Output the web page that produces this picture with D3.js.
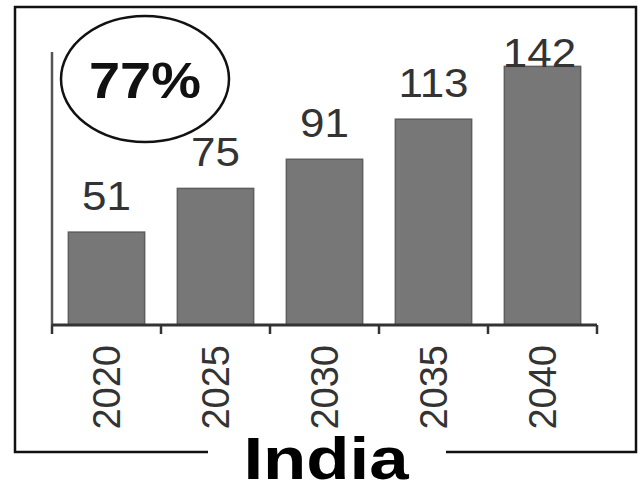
<!DOCTYPE html>
<html>
<head>
<meta charset="utf-8">
<script src="https://cdn.jsdelivr.net/npm/d3@7"></script>
<style>
html,body{margin:0;padding:0;background:#fff;}
svg{display:block;}
text{font-family:"Liberation Sans", Arial, sans-serif;}
</style>
</head>
<body>
<svg id="chart" width="641" height="484"></svg>
<script>
const years = ["2020", "2025", "2030", "2035", "2040"];
const values = [51, 75, 91, 113, 142];
const badgeText = "77%";
const titleText = "India";

const svg = d3.select("#chart");
const x0 = 52, x1 = 597, yBase = 325, yTop = 50;
const labelMinY = 67;

const defs = svg.append("defs");
const f = defs.append("filter").attr("id", "sh").attr("x", "-10%").attr("y", "-200%").attr("width", "120%").attr("height", "500%");
f.append("feGaussianBlur").attr("stdDeviation", 2);

const x = d3.scaleBand().domain(years).range([x0, x1]).paddingInner(0.3).paddingOuter(0.15);
const y = d3.scaleLinear().domain([0, 151]).range([yBase, yTop]);

// frame shadow
svg.append("path")
  .attr("d", "M208,456 L18,456 M446,456 L636,456")
  .attr("stroke", "#777").attr("stroke-width", 3).attr("fill", "none")
  .attr("filter", "url(#sh)");
// frame
svg.append("path")
  .attr("d", "M208,452 L15,452 L15,7 L636,7 L636,452 L446,452")
  .attr("stroke", "#111").attr("stroke-width", 2.5).attr("fill", "none");

// bars
svg.selectAll("rect.bar").data(values).join("rect")
  .attr("class", "bar")
  .attr("x", (d, i) => x(years[i]))
  .attr("width", x.bandwidth())
  .attr("y", d => y(d))
  .attr("height", d => yBase - y(d))
  .attr("fill", "#777").attr("stroke", "#5e5e5e").attr("stroke-width", 1.5);

// y axis line
svg.append("line").attr("x1", x0).attr("x2", x0).attr("y1", yTop + 2).attr("y2", yBase)
  .attr("stroke", "#555").attr("stroke-width", 2.5);

// x axis
const xAxis = d3.axisBottom(x).tickSize(0).tickFormat("");
const gx = svg.append("g").attr("transform", `translate(0,${yBase})`).call(xAxis);
gx.select(".domain").remove();
svg.append("line").attr("x1", x0).attr("x2", x1).attr("y1", yBase).attr("y2", yBase)
  .attr("stroke", "#333").attr("stroke-width", 3);
const bounds = years.map(d => x(d) - x.step() * x.paddingInner() / 2);
bounds[0] = x0;
bounds.push(x1);
svg.selectAll("line.tick").data(bounds).join("line")
  .attr("class", "tick")
  .attr("x1", d => d).attr("x2", d => d)
  .attr("y1", yBase).attr("y2", yBase + 9)
  .attr("stroke", "#333").attr("stroke-width", 2.5);

// year labels rotated
svg.selectAll("text.year").data(years).join("text")
  .attr("class", "year")
  .attr("transform", d => `translate(${x(d) + x.bandwidth() / 2 + 13},345) rotate(-90)`)
  .attr("text-anchor", "end")
  .attr("font-size", 38)
  .attr("fill", "#333")
  .text(d => d);

// value labels (clamped so the tallest label sits on its bar)
svg.selectAll("text.val").data(values).join("text")
  .attr("class", "val")
  .attr("transform", (d, i) => `translate(${x(years[i]) + x.bandwidth() / 2 - (y(d) - 22 < labelMinY ? 3 : 0)},${Math.max(y(d) - 22, labelMinY)}) scale(1.1,1)`)
  .attr("text-anchor", "middle")
  .attr("font-size", 40)
  .attr("fill", "#333")
  .text(d => d);

// badge ellipse
svg.append("ellipse").attr("cx", 145).attr("cy", 79).attr("rx", 84).attr("ry", 63)
  .attr("fill", "none").attr("stroke", "#111").attr("stroke-width", 2.5);
svg.append("text")
  .attr("transform", "translate(145,98) scale(1.12,1)")
  .attr("text-anchor", "middle")
  .attr("font-size", 50).attr("font-weight", "bold").attr("fill", "#111")
  .text(badgeText);

// title
svg.append("text")
  .attr("transform", "translate(326,479) scale(1.2,1)")
  .attr("text-anchor", "middle")
  .attr("font-size", 59).attr("font-weight", "bold").attr("fill", "#000")
  .text(titleText);
</script>
</body>
</html>
